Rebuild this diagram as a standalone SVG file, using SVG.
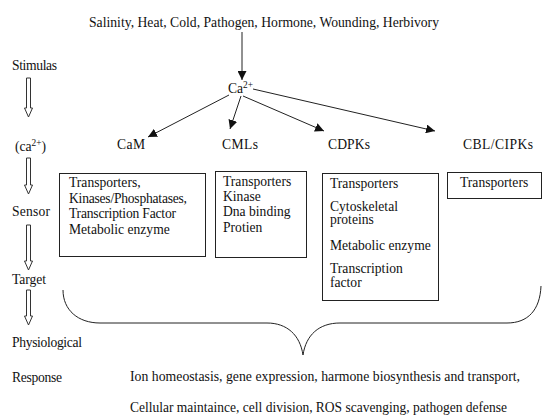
<svg xmlns="http://www.w3.org/2000/svg" width="542" height="417" viewBox="0 0 542 417" font-family="Times New Roman, Liberation Serif, DejaVu Serif, serif" font-size="13.6">
<style>
text{fill:#111}
.bx{fill:#fff;stroke:#222;stroke-width:1}
.ln{stroke:#222;stroke-width:1;fill:none}
.ha{fill:#fff;stroke:#333;stroke-width:1}
.sup{font-size:9.4px}
.lbl{font-size:13.6px}
.big{font-size:13.7px}
</style>
<defs>
<marker id="ah" viewBox="0 0 10 10" refX="10" refY="5" markerWidth="9" markerHeight="9" markerUnits="userSpaceOnUse" orient="auto">
<path d="M0,0 L10,5 L0,10 Z" fill="#111"/>
</marker>
</defs>
<rect width="542" height="417" fill="#fff"/>

<g id="stimuli"><text class="big" x="89" y="27" textLength="350" lengthAdjust="spacingAndGlyphs">Salinity, Heat, Cold, Pathogen, Hormone, Wounding, Herbivory</text></g>
<g id="ca"><text class="lbl" x="228" y="93">Ca<tspan class="sup" dy="-5">2+</tspan></text></g>

<g id="left-labels">
<text x="12" y="70" textLength="45">Stimulas</text>
<text x="15" y="151">(ca<tspan class="sup" dy="-5">2+</tspan><tspan dy="5">)</tspan></text>
<text x="12" y="216" textLength="38">Sensor</text>
<text x="12" y="284" textLength="34">Target</text>
<text x="12" y="347" textLength="70">Physiological</text>
<text x="12" y="382" textLength="50">Response</text>
</g>

<g id="left-arrows">
<polygon class="ha" points="26.5,78 30.5,78 30.5,108 32.5,108 28.5,117 24.5,108 26.5,108"/>
<polygon class="ha" points="26.5,158 30.5,158 30.5,185 32.5,185 28.5,194 24.5,185 26.5,185"/>
<polygon class="ha" points="26.5,225 30.5,225 30.5,261 32.5,261 28.5,270 24.5,261 26.5,261"/>
<polygon class="ha" points="26.5,290 30.5,290 30.5,316 32.5,316 28.5,325 24.5,316 26.5,316"/>
</g>

<g id="sensor-labels">
<text class="lbl" x="117" y="149" textLength="28">CaM</text>
<text class="lbl" x="222" y="149" textLength="36">CMLs</text>
<text class="lbl" x="328" y="149" textLength="42">CDPKs</text>
<text class="lbl" x="463" y="149" textLength="70">CBL/CIPKs</text>
</g>

<g id="connectors">
<line class="ln" x1="242" y1="32" x2="242" y2="80" marker-end="url(#ah)"/>
<line class="ln" x1="229" y1="95" x2="148" y2="137" marker-end="url(#ah)"/>
<line class="ln" x1="241" y1="96" x2="230" y2="129" marker-end="url(#ah)"/>
<line class="ln" x1="243" y1="96" x2="324" y2="131" marker-end="url(#ah)"/>
<line class="ln" x1="253" y1="89" x2="435" y2="131" marker-end="url(#ah)"/>
</g>

<g id="box-cam">
<rect class="bx" x="59.5" y="173.5" width="146" height="83"/>
<text x="69" y="187">Transporters,</text>
<text x="69" y="203" textLength="118">Kinases/Phosphatases,</text>
<text x="69" y="218" textLength="107">Transcription Factor</text>
<text x="69" y="234">Metabolic enzyme</text>
</g>
<g id="box-cmls">
<rect class="bx" x="215.5" y="171.5" width="91" height="86"/>
<text x="223" y="186">Transporters</text>
<text x="223" y="201">Kinase</text>
<text x="223" y="216">Dna binding</text>
<text x="223" y="232">Protien</text>
</g>
<g id="box-cdpks">
<rect class="bx" x="322.5" y="173.5" width="116" height="127"/>
<text x="330" y="188">Transporters</text>
<text x="330" y="211">Cytoskeletal</text>
<text x="330" y="224">proteins</text>
<text x="330" y="250">Metabolic enzyme</text>
<text x="330" y="273">Transcription</text>
<text x="330" y="287">factor</text>
</g>
<g id="box-cbl">
<rect class="bx" x="447.5" y="172.5" width="94" height="26"/>
<text x="460" y="187">Transporters</text>
</g>

<g id="brace">
<path class="ln" stroke="#444" d="M63,290 C63,310 78,323 100,323 L267,323 C287,323 300,335 303,355 C306,335 319,323 340,323 L507,323 C528,323 540,310 541,286"/>
</g>

<g id="response">
<text class="big" x="130" y="381" textLength="390" lengthAdjust="spacingAndGlyphs">Ion homeostasis, gene expression, harmone biosynthesis and transport,</text>
<text class="big" x="130" y="412" textLength="377" lengthAdjust="spacingAndGlyphs">Cellular maintaince, cell division, ROS scavenging, pathogen defense</text>
</g>
</svg>
